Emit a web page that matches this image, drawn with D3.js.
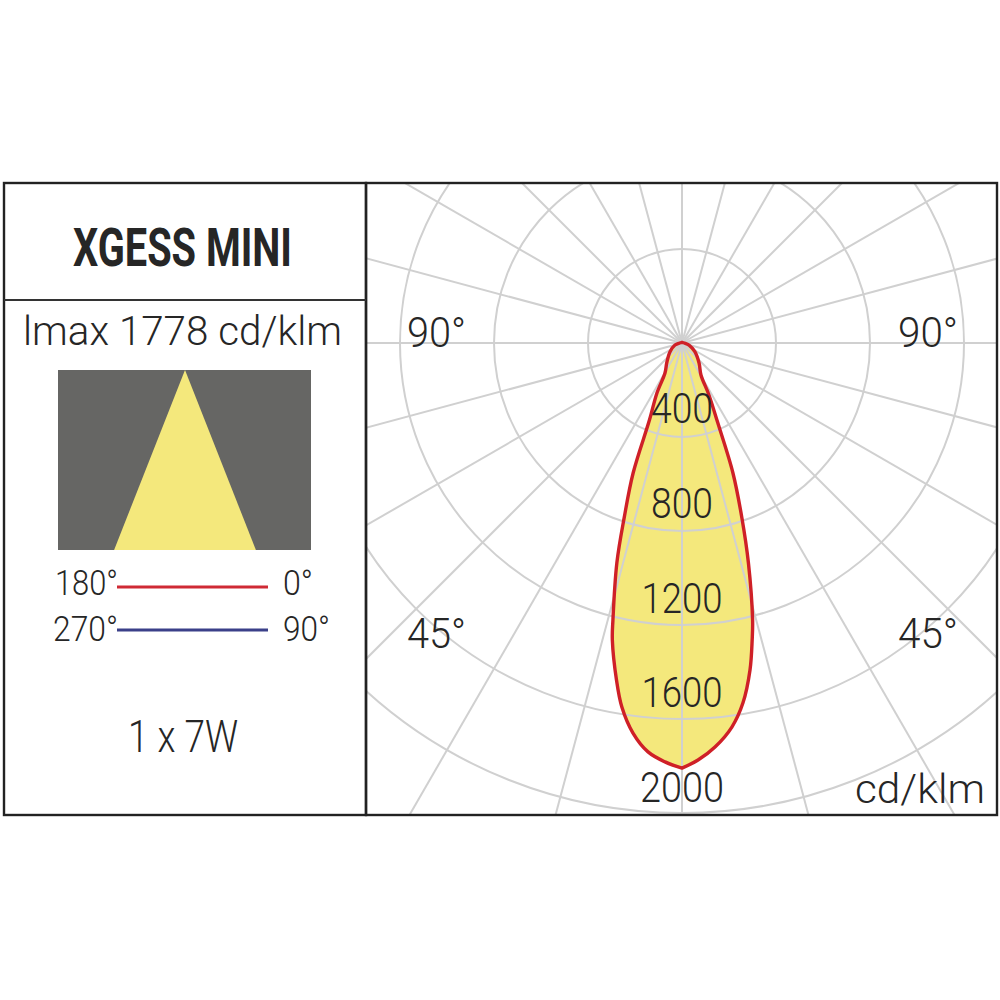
<!DOCTYPE html>
<html><head><meta charset="utf-8">
<style>html,body{margin:0;padding:0;background:#fff}svg{display:block}text{font-family:Roboto,"Open Sans",sans-serif;fill:#262626}</style>
<script src="https://cdn.jsdelivr.net/npm/d3@7"></script></head><body>
<svg id="c" width="1000" height="1000"></svg>
<script>
const title = "XGESS MINI";
const maxLabel = "lmax 1778 cd/klm";
const powerLabel = "1 x 7W";
const unitLabel = "cd/klm";
const ringValues = [400, 800, 1200, 1600, 2000];
const spokeAngles = [0,15,30,45,60,75,90,105,120,135,150,165,180,195,210,225,240,255,270,285,300,315,330,345];
const rightAngles = [0, 2.2, 4.67, 7.4, 9.6, 11.75, 13.3, 14.3, 16.8, 18.9, 21.4, 24.2, 27.4, 30.7, 40.4, 56, 74, 90, 180];
const rightValues = [1809, 1776, 1725, 1648, 1554, 1421, 1298, 1216, 978, 787, 594, 369, 249, 158, 112, 66, 31, 10, 3];
const leftAngles = [0, 2.32, 4.75, 7.16, 9.4, 11, 13.2, 14, 16.5, 18.3, 20.6, 22.9, 26.6, 29.5, 37.4, 54, 74, 90, 180];
const leftValues = [1809, 1784, 1746, 1673, 1569, 1461, 1298, 1215, 976, 784, 591, 356, 238, 147, 107, 63, 31, 10, 3];
const beamHalfAngle = 21.5;

const svg = d3.select("#c");
const cx = 682, cy = 343;
const r = d3.scaleLinear().domain([0, 2000]).range([0, 470]);
const rad = d => (180 - d) * Math.PI / 180;   // 0° points downwards

const yellow = "#f4e87c", grid = "#d0d0d0", ink = "#222";

function label(s, x0, x1, base, size, weight) {
  svg.append("text").attr("x", x0).attr("y", base)
    .attr("textLength", x1 - x0).attr("lengthAdjust", "spacingAndGlyphs")
    .attr("font-size", size).attr("font-weight", weight || 300).text(s);
}

// polar plot
const defs = svg.append("defs");
defs.append("clipPath").attr("id", "plot").append("rect")
  .attr("x", 366).attr("y", 183).attr("width", 631).attr("height", 632);
const plot = svg.append("g").attr("clip-path", "url(#plot)")
  .append("g").attr("transform", `translate(${cx},${cy})`);

const radial = d3.lineRadial().angle(d => d[0]).radius(d => d[1]).curve(d3.curveCatmullRom.alpha(0.5));
const side = (angles, values, sign) => angles.map((a, i) => [sign * rad(a), r(values[i])]);
const rightPath = radial(side(rightAngles, rightValues, 1));
const leftPath = radial(side(leftAngles, leftValues, -1).reverse());
const outline = rightPath + "L" + leftPath.slice(1) + "Z";

plot.append("path").attr("d", outline).attr("fill", yellow);

plot.selectAll("circle.ring").data(ringValues).join("circle").attr("class", "ring")
  .attr("r", d => r(d)).attr("fill", "none").attr("stroke", grid).attr("stroke-width", 2);
plot.selectAll("line.spoke").data(spokeAngles).join("line").attr("class", "spoke")
  .attr("x2", d => 800 * Math.sin(rad(d))).attr("y2", d => -800 * Math.cos(rad(d)))
  .attr("stroke", grid).attr("stroke-width", 2);

plot.append("path").attr("d", outline).attr("fill", "none")
  .attr("stroke", "#cf2027").attr("stroke-width", 3.4).attr("stroke-linejoin", "round");

// ring labels
const labelY = d3.scaleLinear().domain([400, 2000]).range([423, 802]);
ringValues.forEach(v => {
  const w = v < 1000 ? 62 : (v === 2000 ? 84 : 81);
  label(String(v), cx - w / 2, cx + w / 2, labelY(v), 42);
});
label("90°", 407, 466, 347, 42);
label("90°", 898, 958, 347, 42);
label("45°", 407, 466, 648, 42);
label("45°", 898, 958, 648, 42);
label(unitLabel, 855, 985, 803, 41);

// frames
const frame = svg.append("g").attr("fill", "none").attr("stroke", ink).attr("stroke-width", 2.4);
frame.append("rect").attr("x", 4).attr("y", 183).attr("width", 362).attr("height", 632);
frame.append("rect").attr("x", 366).attr("y", 183).attr("width", 631).attr("height", 632);
svg.append("line").attr("x1", 4).attr("x2", 366).attr("y1", 300).attr("y2", 300)
  .attr("stroke", "#333").attr("stroke-width", 2);

// left panel
label(title, 73, 292, 266, 53, 700);
label(maxLabel, 23, 342, 345, 41);

const boxX = 58, boxY = 370, boxW = 253, boxH = 180, apexX = 185;
svg.append("rect").attr("x", boxX).attr("y", boxY).attr("width", boxW).attr("height", boxH).attr("fill", "#666664");
const halfBase = boxH * Math.tan(beamHalfAngle * Math.PI / 180);
svg.append("path").attr("fill", yellow)
  .attr("d", d3.line()([[apexX, boxY], [apexX + halfBase, boxY + boxH], [apexX - halfBase, boxY + boxH]]) + "Z");

svg.append("line").attr("x1", 117).attr("x2", 268).attr("y1", 587).attr("y2", 587).attr("stroke", "#cf2a35").attr("stroke-width", 3.2);
svg.append("line").attr("x1", 117).attr("x2", 268).attr("y1", 630).attr("y2", 630).attr("stroke", "#3b4089").attr("stroke-width", 3.2);
label("180°", 55, 118, 595, 35);
label("0°", 283, 313, 595, 35);
label("270°", 53, 118, 641, 35);
label("90°", 283, 330, 641, 35);
label(powerLabel, 128, 238, 752, 44);
</script></body></html>
